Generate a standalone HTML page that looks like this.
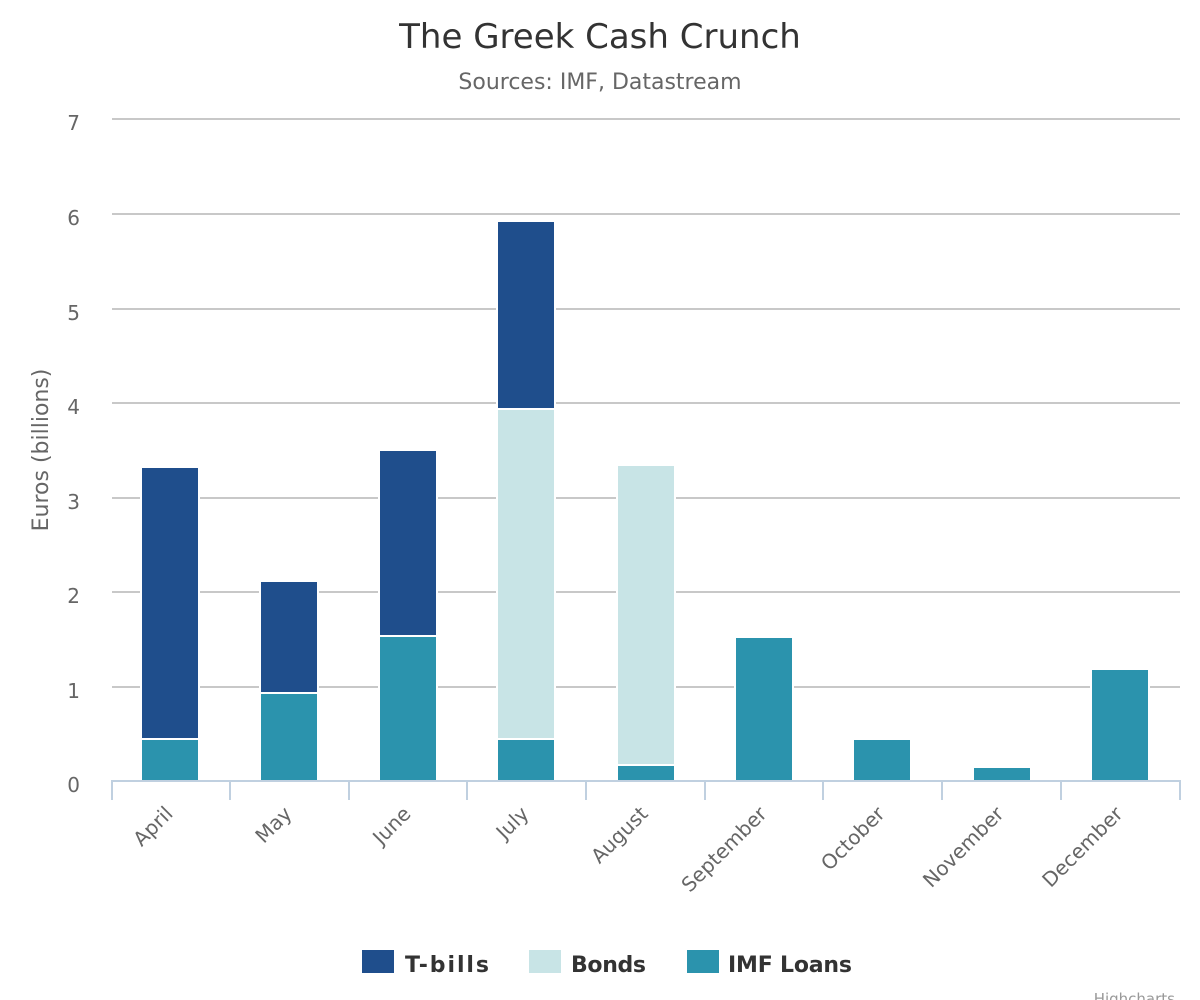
<!DOCTYPE html>
<html><head><meta charset="utf-8"><style>
body{margin:0;background:#fff}
svg{display:block;font-family:"DejaVu Sans","Liberation Sans",sans-serif}
</style></head><body>
<svg width="1200" height="1000" viewBox="0 0 1200 1000">
<rect width="1200" height="1000" fill="#fff"/>
<text x="600" y="48" text-anchor="middle" font-size="34" fill="#333">The Greek Cash Crunch</text>
<text x="600" y="89" text-anchor="middle" font-size="22" fill="#666">Sources: IMF, Datastream</text>
<g stroke="#c8c8c8" stroke-width="2">
<line x1="112" x2="1180" y1="119" y2="119"/>
<line x1="112" x2="1180" y1="214" y2="214"/>
<line x1="112" x2="1180" y1="309" y2="309"/>
<line x1="112" x2="1180" y1="403" y2="403"/>
<line x1="112" x2="1180" y1="498" y2="498"/>
<line x1="112" x2="1180" y1="592" y2="592"/>
<line x1="112" x2="1180" y1="687" y2="687"/>
</g>
<g font-size="20" fill="#666" text-anchor="end">
<text x="80" y="130">7</text><text x="80" y="225">6</text><text x="80" y="320">5</text>
<text x="80" y="414">4</text><text x="80" y="509">3</text><text x="80" y="603">2</text>
<text x="80" y="698">1</text><text x="80" y="792">0</text>
</g>
<text transform="translate(48,450) rotate(-90)" text-anchor="middle" font-size="22" fill="#666">Euros (billions)</text>
<g stroke="#fff" stroke-width="2">
<rect x="141" y="739" width="58" height="42" fill="#2b93ad"/>
<rect x="141" y="467" width="58" height="272" fill="#1f4e8c"/>
<rect x="260" y="693" width="58" height="88" fill="#2b93ad"/>
<rect x="260" y="581" width="58" height="112" fill="#1f4e8c"/>
<rect x="379" y="636" width="58" height="145" fill="#2b93ad"/>
<rect x="379" y="450" width="58" height="186" fill="#1f4e8c"/>
<rect x="497" y="739" width="58" height="42" fill="#2b93ad"/>
<rect x="497" y="409" width="58" height="330" fill="#c8e4e6"/>
<rect x="497" y="221" width="58" height="188" fill="#1f4e8c"/>
<rect x="617" y="765" width="58" height="16" fill="#2b93ad"/>
<rect x="617" y="465" width="58" height="300" fill="#c8e4e6"/>
<rect x="735" y="637" width="58" height="144" fill="#2b93ad"/>
<rect x="853" y="739" width="58" height="42" fill="#2b93ad"/>
<rect x="973" y="767" width="58" height="14" fill="#2b93ad"/>
<rect x="1091" y="669" width="58" height="112" fill="#2b93ad"/>
</g>
<g stroke="#c0d0e0" stroke-width="2">
<line x1="111" x2="1181" y1="781" y2="781"/>
<line x1="112" x2="112" y1="781" y2="800"/>
<line x1="230" x2="230" y1="781" y2="800"/>
<line x1="349" x2="349" y1="781" y2="800"/>
<line x1="467" x2="467" y1="781" y2="800"/>
<line x1="586" x2="586" y1="781" y2="800"/>
<line x1="705" x2="705" y1="781" y2="800"/>
<line x1="823" x2="823" y1="781" y2="800"/>
<line x1="942" x2="942" y1="781" y2="800"/>
<line x1="1061" x2="1061" y1="781" y2="800"/>
<line x1="1180" x2="1180" y1="781" y2="800"/>
</g>
<g font-size="20" fill="#666" text-anchor="end">
<text transform="translate(174,815) rotate(-45)">April</text>
<text transform="translate(293,815) rotate(-45)">May</text>
<text transform="translate(412,815) rotate(-45)">June</text>
<text transform="translate(530,815) rotate(-45)">July</text>
<text transform="translate(649,815) rotate(-45)">August</text>
<text transform="translate(768,815) rotate(-45)">September</text>
<text transform="translate(886,815) rotate(-45)">October</text>
<text transform="translate(1005,815) rotate(-45)">November</text>
<text transform="translate(1124,815) rotate(-45)">December</text>
</g>
<g font-size="22" font-weight="bold" fill="#333">
<rect x="362" y="950" width="32" height="23" fill="#1f4e8c"/>
<text x="405" y="972" textLength="84">T-bills</text>
<rect x="529" y="950" width="32" height="23" fill="#c8e4e6"/>
<text x="571" y="972" textLength="75">Bonds</text>
<rect x="687" y="950" width="32" height="23" fill="#2b93ad"/>
<text x="728" y="972" textLength="124">IMF Loans</text>
</g>
<text x="1175" y="1004" text-anchor="end" font-size="15" fill="#999">Highcharts</text>
</svg>
</body></html>
